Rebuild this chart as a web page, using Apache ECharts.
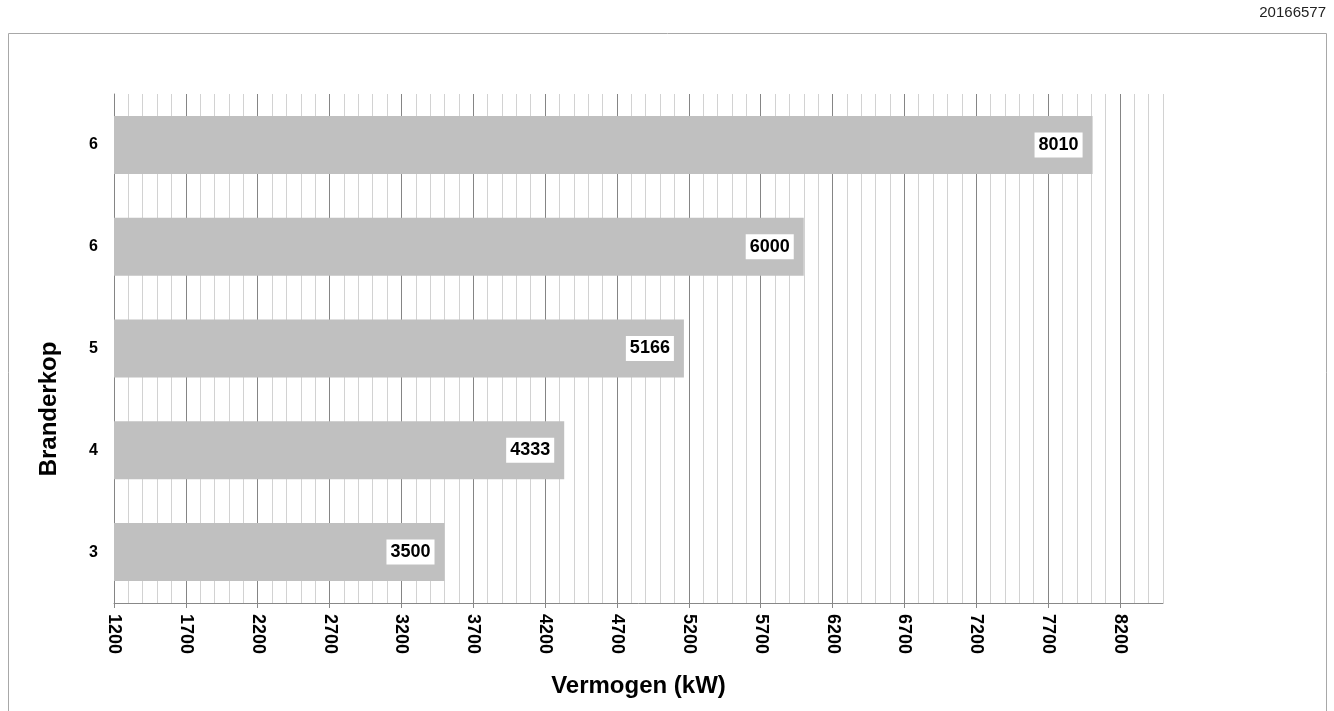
<!DOCTYPE html>
<html>
<head>
<meta charset="utf-8">
<title>Vermogen per branderkop</title>
<script src="https://cdn.jsdelivr.net/npm/echarts@6/dist/echarts.min.js"></script>
<style>
  html, body { margin: 0; padding: 0; background: #fff; }
  #chart { width: 1334px; height: 711px; }
</style>
</head>
<body>
<div id="chart"></div>
<script>
// Burner head categories (bottom to top) and their output in kW
const categories = ['3', '4', '5', '6', '6'];
const vermogen = [3500, 4333, 5166, 6000, 8010];
const xMin = 1200;
const xMax = 8500;
const majorStep = 500;
const minorStep = 100;
const chartId = '20166577';

const FONT = '"Liberation Sans", Arial, sans-serif';
const chart = echarts.init(document.getElementById('chart'));

chart.setOption({
  animation: false,
  textStyle: { fontFamily: FONT },
  grid: { left: 114, right: 171, top: 94, bottom: 108, containLabel: false },
  xAxis: [
    {
      type: 'value',
      min: xMin,
      max: xMax,
      interval: majorStep,
      position: 'bottom',
      z: 1,
      name: 'Vermogen (kW)',
      nameLocation: 'middle',
      nameGap: 71,
      nameTextStyle: { fontSize: 24, fontWeight: 'bold', color: '#000', fontFamily: FONT },
      axisLine: { show: true, lineStyle: { color: '#888', width: 1 } },
      axisTick: { show: true, length: 5, lineStyle: { color: '#888' } },
      axisLabel: {
        rotate: -90,
        margin: 11,
        showMaxLabel: false,
        formatter: (v) => String(v),
        fontSize: 18,
        fontWeight: 'bold',
        color: '#000',
        fontFamily: FONT
      },
      splitLine: { show: true, showMaxLine: false, lineStyle: { color: '#858585', width: 1 } }
    },
    {
      // fine 100 kW grid
      type: 'value',
      min: xMin,
      max: xMax,
      interval: minorStep,
      position: 'bottom',
      z: 0,
      axisLine: { show: false },
      axisTick: { show: false },
      axisLabel: { show: false },
      splitLine: { show: true, lineStyle: { color: '#d2d2d2', width: 1 } }
    }
  ],
  yAxis: {
    type: 'category',
    data: categories,
    axisLine: { show: true, lineStyle: { color: '#888', width: 1 } },
    axisTick: { show: false },
    axisLabel: { margin: 16, fontSize: 16, fontWeight: 'bold', color: '#000', fontFamily: FONT },
    splitLine: { show: false }
  },
  series: [{
    type: 'bar',
    xAxisIndex: 0,
    data: vermogen,
    barWidth: 58,
    itemStyle: { color: '#c0c0c0' },
    z: 2,
    label: {
      show: true,
      position: 'insideRight',
      distance: 10,
      fontSize: 18,
      fontWeight: 'bold',
      color: '#000',
      fontFamily: FONT,
      backgroundColor: '#fff',
      padding: [4, 4, 3, 4]
    }
  }],
  graphic: [
    {
      type: 'rect',
      shape: { x: 8.5, y: 33.5, width: 1318, height: 720 },
      style: { fill: 'none', stroke: '#a8a8a8', lineWidth: 1 },
      silent: true
    },
    {
      type: 'text',
      right: 8,
      top: 5,
      style: { text: chartId, font: '15px ' + FONT, fill: '#222' }
    },
    {
      type: 'text',
      x: 49,
      y: 409,
      rotation: Math.PI / 2,
      style: {
        text: 'Branderkop',
        font: 'bold 24px ' + FONT,
        fill: '#000',
        align: 'center',
        verticalAlign: 'middle'
      }
    }
  ]
});
</script>
</body>
</html>
